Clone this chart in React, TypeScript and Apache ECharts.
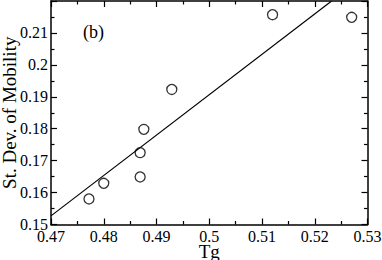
import React, { useEffect, useRef } from "react";
import * as echarts from "echarts";

const tgValues = [0.4772, 0.48, 0.4869, 0.4869, 0.4876, 0.4929, 0.512, 0.527];
const stdDevValues = [0.158, 0.1629, 0.1649, 0.1725, 0.1798, 0.1923, 0.2157, 0.2149];
const fitX = [0.47, 0.5232];
const fitY = [0.1527, 0.22];
const xLabelsRange = [0.47, 0.53];
const yLabelsRange = [0.15, 0.22];
const panelLabel = "(b)";

const FONT = "Liberation Serif";

export default function App() {
  const ref = useRef<HTMLDivElement>(null);
  useEffect(() => {
    if (!ref.current) return;
    const chart = echarts.init(ref.current, null, { renderer: "svg" });
    const fmt = (v: number) => String(+v.toFixed(2));
    const axisCommon = {
      axisLine: { show: true, onZero: false, lineStyle: { color: "#000", width: 1.5 } },
      axisTick: { show: true, inside: true, length: 6, lineStyle: { color: "#000", width: 1.2 } },
      minorTick: { show: true, splitNumber: 2, length: 3.5, lineStyle: { color: "#000", width: 1.2 } },
      splitLine: { show: false },
      minorSplitLine: { show: false },
    };
    chart.setOption({
      animation: false,
      backgroundColor: "#fff",
      textStyle: { fontFamily: FONT },
      grid: { left: 51, top: 1, right: 14.5, bottom: 35.5, containLabel: false, outerBoundsMode: "none" },
      xAxis: [
        {
          type: "value",
          min: xLabelsRange[0],
          max: xLabelsRange[1],
          interval: 0.01,
          ...axisCommon,
          axisLabel: { color: "#000", fontFamily: FONT, fontSize: 16, margin: 4, formatter: fmt },
          name: "Tg",
          nameLocation: "middle",
          nameGap: 17,
          nameMoveOverlap: false,
          nameTextStyle: { color: "#000", fontFamily: FONT, fontSize: 19 },
        },
        {
          type: "value",
          position: "top",
          min: xLabelsRange[0],
          max: xLabelsRange[1],
          interval: 0.01,
          ...axisCommon,
          axisLabel: { show: false },
        },
      ],
      yAxis: [
        {
          type: "value",
          min: yLabelsRange[0],
          max: yLabelsRange[1],
          interval: 0.01,
          ...axisCommon,
          axisLabel: { color: "#000", fontFamily: FONT, fontSize: 16, margin: 3, formatter: fmt, showMaxLabel: false },
          name: "St. Dev. of Mobility",
          nameLocation: "middle",
          nameGap: 32,
          nameMoveOverlap: false,
          nameTextStyle: { color: "#000", fontFamily: FONT, fontSize: 19 },
        },
        {
          type: "value",
          position: "right",
          min: yLabelsRange[0],
          max: yLabelsRange[1],
          interval: 0.01,
          ...axisCommon,
          axisLabel: { show: false },
        },
      ],
      graphic: [
        {
          type: "text",
          left: 83,
          top: 23,
          style: { text: panelLabel, fontFamily: FONT, fontSize: 18, fill: "#000" },
        },
      ],
      series: [
        {
          type: "line",
          data: fitX.map((x, i) => [x, fitY[i]]),
          showSymbol: false,
          symbol: "none",
          lineStyle: { color: "#000", width: 1.2 },
          clip: true,
        },
        {
          type: "scatter",
          data: tgValues.map((x, i) => [x, stdDevValues[i]]),
          symbol: "circle",
          symbolSize: 10,
          itemStyle: { color: "transparent", borderColor: "#000", borderWidth: 1.3 },
          clip: false,
        },
      ],
    });
    return () => chart.dispose();
  }, []);
  return (
    <div
      ref={ref}
      style={{ position: "fixed", left: 0, top: 0, width: 382, height: 260, background: "#fff" }}
    />
  );
}
